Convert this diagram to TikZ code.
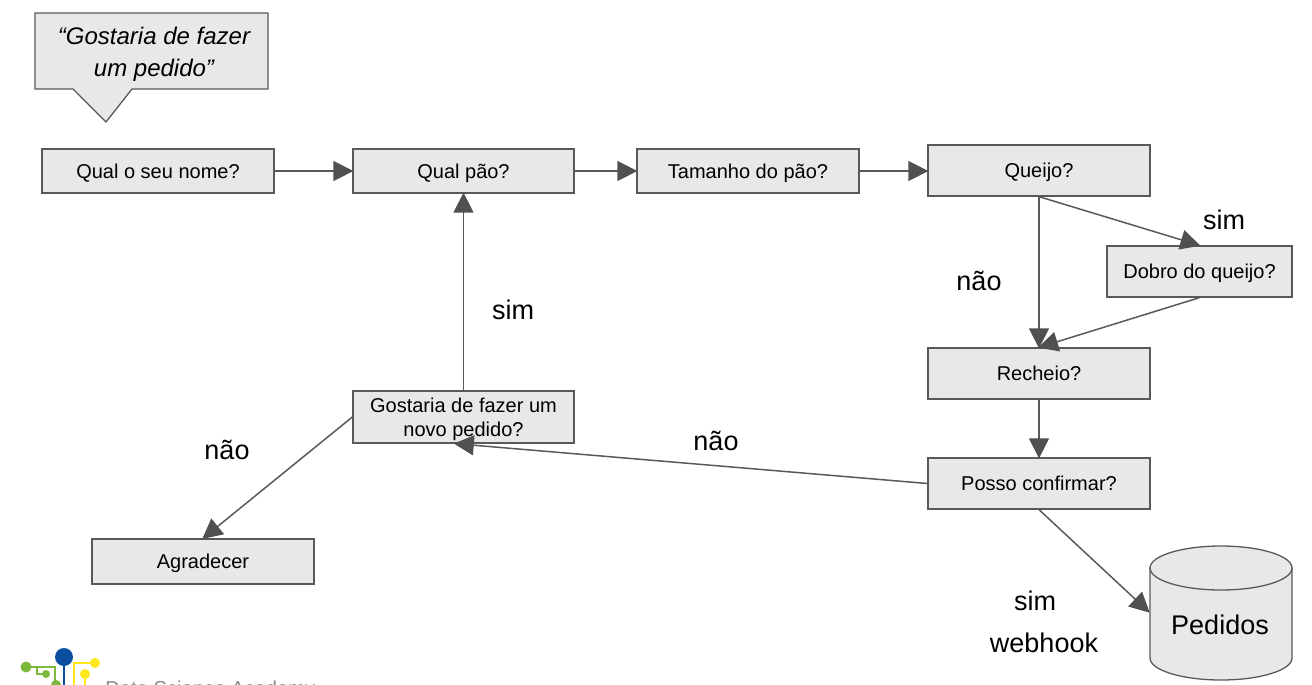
\documentclass[tikz,border=0pt]{standalone}
\usepackage{fontspec}
\setmainfont{Liberation Sans}
\usetikzlibrary{arrows.meta}
\definecolor{boxfill}{HTML}{E8E8E8}
\definecolor{boxline}{HTML}{595959}
\definecolor{dsagreen}{HTML}{7CB93A}
\definecolor{dsablue}{HTML}{0B4EA2}
\definecolor{dsayellow}{HTML}{FFE81A}
\tikzset{
  box/.style={draw=boxline, fill=boxfill, line width=0.65pt, inner sep=0pt, text depth=0pt, font=\fontsize{10}{12}\selectfont, align=center},
  flow/.style={draw=boxline, line width=0.75pt, -{Triangle[length=10pt,width=10pt,color=boxline!90!black]}, shorten >=-0.5pt},
  answer/.style={font=\fontsize{13.5}{16}\selectfont, inner sep=0pt}
}
\begin{document}
\begin{tikzpicture}[x=0.5pt, y=-0.5pt]
\useasboundingbox (0,0) rectangle (1312,685);
\clip (0,0) rectangle (1312,685);
% speech bubble
\draw[boxline, fill=boxfill, line width=0.65pt] (35,13) -- (268,13) -- (268,89) -- (132,89) -- (106,122) -- (73,89) -- (35,89) -- cycle;
\node[align=center, font=\fontsize{12}{16}\selectfont\itshape] (bubble) at (154,54) {``Gostaria de fazer\\um pedido''};
% steps
\node[box, minimum width=116pt, minimum height=22pt] (nome) at (158,171) {Qual o seu nome?};
\node[box, minimum width=110.5pt, minimum height=22pt] (pao) at (463.5,171) {Qual pão?};
\node[box, minimum width=111pt, minimum height=22pt] (tamanho) at (748,171) {Tamanho do pão?};
\node[box, minimum width=111pt, minimum height=25.5pt] (queijo) at (1039,170.5) {Queijo?};
\node[box, minimum width=92.5pt, minimum height=25.5pt] (dobro) at (1199.5,271.5) {Dobro do queijo?};
\node[box, minimum width=111pt, minimum height=25.5pt] (recheio) at (1039,373.5) {Recheio?};
\node[box, minimum width=111pt, minimum height=25.5pt] (posso) at (1039,483.5) {Posso confirmar?};
\node[box, minimum width=110.5pt, minimum height=26pt] (novo) at (463.5,417) {Gostaria de fazer um\\[-0.2pt]novo pedido?};
\node[box, minimum width=111pt, minimum height=22.5pt] (agradecer) at (203,561.5) {Agradecer};
% banco
\filldraw[draw=boxline, fill=boxfill, line width=0.65pt] (1150,568) -- (1150,658) arc[start angle=180, end angle=0, x radius=71, y radius=22] -- (1292,568) -- cycle;
\filldraw[draw=boxline, fill=boxfill, line width=0.65pt] (1221,568) ellipse [x radius=71, y radius=22];
\node[font=\fontsize{13.5}{16}\selectfont, inner sep=0pt] (pedidos) at (1220,625) {Pedidos};
\coordinate (banco) at (1149,612);
% arrows
\draw[flow] (nome) -- (pao);
\draw[flow] (pao) -- (tamanho);
\draw[flow] (tamanho) -- (tamanho -| queijo.west);
\draw[flow] (queijo.south) -- (recheio.north);
\draw[flow] (queijo.south) -- (dobro.north);
\draw[flow] (dobro.south) -- (recheio.north);
\draw[flow] (recheio) -- (posso);
\draw[flow] (posso.west) -- (novo.252);
\draw[flow] (novo.north) -- (pao.south);
\draw[flow] (novo.west) -- (agradecer.north);
\draw[flow] (posso.south) -- (banco);
% answers
\node[answer] (simdobro) at (1224,220) {sim};
\node[answer] (naoqueijo) at (979,281) {não};
\node[answer] (simnovo) at (513,310) {sim};
\node[answer] (naonovo) at (716,441) {não};
\node[answer] (naofim) at (227,450) {não};
\node[answer] (simfim) at (1035,601) {sim};
\node[answer] (webhook) at (1044,643) {webhook};
% logo
\draw[dsagreen, line width=1pt] (26,667) -- (55,667) -- (55,685);
\draw[dsagreen, line width=1pt] (46,674) -- (37,674) -- (37,667);
\draw[dsablue, line width=1.2pt] (64,657) -- (64,685);
\draw[dsayellow, line width=1pt] (95,663) -- (74,663) -- (74,685);
\draw[dsayellow, line width=1pt] (85,674) -- (85,685);
\fill[dsagreen] (26,667) circle (5.5) (46,674) circle (4) (56,685) circle (5);
\fill[dsablue] (64,657) circle (9);
\fill[dsayellow] (95,663) circle (5) (85,674) circle (5);
\node[anchor=base west, inner sep=0pt, text=gray!90, font=\fontsize{10.1}{12}\selectfont] (academy) at (105,695) {Data Science Academy};
\end{tikzpicture}
\end{document}
